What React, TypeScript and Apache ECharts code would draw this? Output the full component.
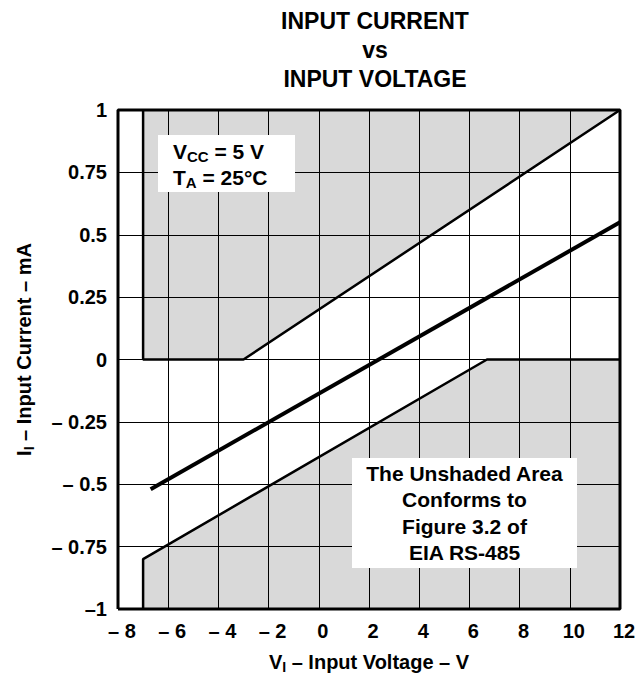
import React, { useEffect, useRef } from "react";
import * as echarts from "echarts";

// Data (V in volts, I in mA)
const upperLimit: number[][] = [[-7, 1], [-7, 0], [-3, 0], [12, 1]];
const lowerLimit: number[][] = [[-7, -1], [-7, -0.8], [6.7, 0], [12, 0]];
const typicalCurve: number[][] = [[-6.7, -0.52], [12, 0.55]];

const xMin = -8;
const xMax = 12;
const xStep = 2;
const yMin = -1;
const yMax = 1;
const yStep = 0.25;

// plot frame, built from the axis extents
const frameCorners: number[][] = [[xMin, yMin], [xMin, yMax], [xMax, yMax], [xMax, yMin], [xMin, yMin]];

const titleLines = ["INPUT CURRENT", "vs", "INPUT VOLTAGE"];
const conditionLines = ["V{s|CC} = 5 V", "T{s|A} = 25°C"];
const noteLines = ["The Unshaded Area", "Conforms to", "Figure 3.2 of", "EIA RS-485"];

const FONT = "'Liberation Sans', Arial, Helvetica, sans-serif";
const SHADE = "#d9d9d9";

export default function App() {
  const ref = useRef<HTMLDivElement>(null);

  useEffect(() => {
    document.body.style.margin = "0";
    if (!ref.current) return;
    const chart = echarts.init(ref.current, null, { renderer: "svg" });

    const fmtX = (v: number) => (v < 0 ? "– " + Math.abs(v) : String(v));
    const fmtY = (v: number) => {
      if (v === -1) return "–1";
      if (v < 0) return "– " + Math.abs(v);
      return String(v);
    };

    const subRich = {
      s: { fontSize: 14, fontWeight: "bold", fontFamily: FONT, padding: [10, 0, 0, 0], color: "#000" },
    };

    chart.setOption({
      animation: false,
      textStyle: { fontFamily: FONT },
      title: {
        text: titleLines.join("\n"),
        left: 370,
        top: 1,
        textAlign: "center",
        textStyle: {
          fontFamily: FONT,
          fontSize: 23,
          fontWeight: "bold",
          lineHeight: 29,
          color: "#000",
        },
      },
      grid: {
        left: 118,
        right: 19,
        top: 110,
        bottom: 74,
        show: false,
      },
      xAxis: {
        type: "value",
        min: xMin,
        max: xMax,
        interval: xStep,
        z: 3,
        axisLine: { show: false },
        axisTick: { show: false },
        splitLine: { show: true, lineStyle: { color: "#000", width: 1 } },
        axisLabel: {
          formatter: fmtX,
          color: "#000",
          fontFamily: FONT,
          fontSize: 20,
          fontWeight: "bold",
          margin: 12,
          padding: [0, 0, 0, 8],
        },
        name: "V{s|I} – Input Voltage – V",
        nameLocation: "middle",
        nameGap: 41,
        nameTextStyle: {
          color: "#000",
          fontFamily: FONT,
          fontSize: 20,
          fontWeight: "bold",
          rich: subRich,
        },
      },
      yAxis: {
        type: "value",
        min: yMin,
        max: yMax,
        interval: yStep,
        z: 3,
        axisLine: { show: false },
        axisTick: { show: false },
        splitLine: { show: true, lineStyle: { color: "#000", width: 1 } },
        axisLabel: {
          formatter: fmtY,
          color: "#000",
          fontFamily: FONT,
          fontSize: 20,
          fontWeight: "bold",
          margin: 11,
          padding: [10, 0, 0, 0],
        },
        name: "I{s|I} – Input Current – mA",
        nameLocation: "middle",
        nameGap: 82,
        nameTextStyle: {
          color: "#000",
          fontFamily: FONT,
          fontSize: 20,
          fontWeight: "bold",
          padding: [0, 0, 0, 20],
          rich: subRich,
        },
      },
      series: [
        {
          type: "line",
          data: upperLimit,
          symbol: "none",
          z: 1,
          lineStyle: { color: "#000", width: 2.5 },
          areaStyle: { color: SHADE, opacity: 1, origin: "end" },
          silent: true,
        },
        {
          type: "line",
          data: lowerLimit,
          symbol: "none",
          z: 1,
          lineStyle: { color: "#000", width: 2.5 },
          areaStyle: { color: SHADE, opacity: 1, origin: "start" },
          silent: true,
        },
        {
          type: "line",
          data: typicalCurve,
          symbol: "none",
          z: 4,
          lineStyle: { color: "#000", width: 4 },
          silent: true,
        },
        {
          type: "line",
          data: frameCorners,
          symbol: "none",
          z: 6,
          clip: false,
          lineStyle: { color: "#000", width: 3 },
          silent: true,
        },
      ],
      graphic: [
        {
          type: "rect",
          z: 100,
          shape: { x: 158, y: 135, width: 137, height: 57 },
          style: { fill: "#fff" },
        },
        {
          type: "text",
          z: 101,
          x: 173,
          y: 138,
          style: {
            text: conditionLines.join("\n"),
            fontFamily: FONT,
            fontSize: 21,
            fontWeight: "bold",
            lineHeight: 26,
            fill: "#000",
            rich: {
              s: { fontSize: 15, fontWeight: "bold", fontFamily: FONT, padding: [10, 0, 0, 0], fill: "#000" },
            },
          },
        },
        {
          type: "rect",
          z: 100,
          shape: { x: 352, y: 458, width: 225, height: 110 },
          style: { fill: "#fff" },
        },
        {
          type: "text",
          z: 101,
          x: 464.5,
          y: 460,
          style: {
            text: noteLines.join("\n"),
            fontFamily: FONT,
            fontSize: 21,
            fontWeight: "bold",
            lineHeight: 26.5,
            align: "center",
            fill: "#000",
          },
        },
      ],
    });

    return () => {
      chart.dispose();
    };
  }, []);

  return <div ref={ref} style={{ width: 639, height: 683 }} />;
}
